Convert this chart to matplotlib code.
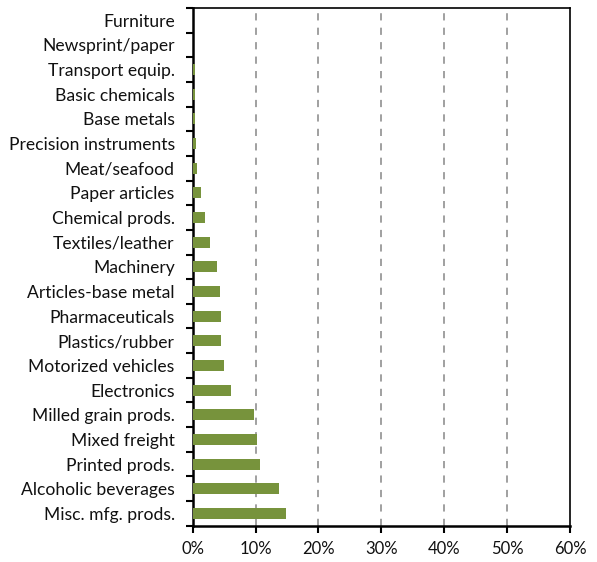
import matplotlib.pyplot as plt
import numpy as np
from matplotlib.ticker import PercentFormatter, FixedLocator

categories = ['Furniture', 'Newsprint/paper', 'Transport equip.', 'Basic chemicals',
              'Base metals', 'Precision instruments', 'Meat/seafood', 'Paper articles',
              'Chemical prods.', 'Textiles/leather', 'Machinery', 'Articles-base metal',
              'Pharmaceuticals', 'Plastics/rubber', 'Motorized vehicles', 'Electronics',
              'Milled grain prods.', 'Mixed freight', 'Printed prods.', 'Alcoholic beverages',
              'Misc. mfg. prods.']
shares = [0.0, 0.05, 0.43, 0.4, 0.35, 0.52, 0.7, 1.3, 1.95, 2.8, 3.9, 4.4,
          4.45, 4.55, 5.0, 6.1, 9.7, 10.3, 10.7, 13.8, 14.9]

plt.rcParams['font.family'] = ['Lato', 'DejaVu Sans']

fig = plt.figure(figsize=(5.97, 5.62), dpi=100)
ax = fig.add_axes([0.3228, 0.0646, 0.632, 0.9212])

y = np.arange(len(categories))
ax.barh(y, shares, height=0.45, color='#77933C', zorder=3)
ax.set_ylim(len(categories) - 0.5, -0.5)
ax.set_xlim(0, 60)

ax.set_yticks(y)
ax.set_yticklabels(categories, fontsize=12.6, color='#111111')
ax.yaxis.set_minor_locator(FixedLocator(np.arange(-0.5, len(categories), 1.0)))
ax.tick_params(axis='y', which='major', length=0, pad=13)
ax.tick_params(axis='y', which='minor', length=5, width=1.5, direction='out')

ax.set_xticks(np.arange(0, 61, 10))
ax.xaxis.set_major_formatter(PercentFormatter(decimals=0))
ax.tick_params(axis='x', length=5, width=1.5, direction='out', labelsize=12, pad=6,
               labelcolor='#111111')

for v in range(10, 60, 10):
    ax.axvline(v, color='#999999', linestyle=(0, (4, 4)), linewidth=1.3, zorder=1)

for s in ['left', 'bottom']:
    ax.spines[s].set_linewidth(1.8)
for s in ['top', 'right']:
    ax.spines[s].set_linewidth(1.2)

fig.savefig('out.png', dpi=100)
